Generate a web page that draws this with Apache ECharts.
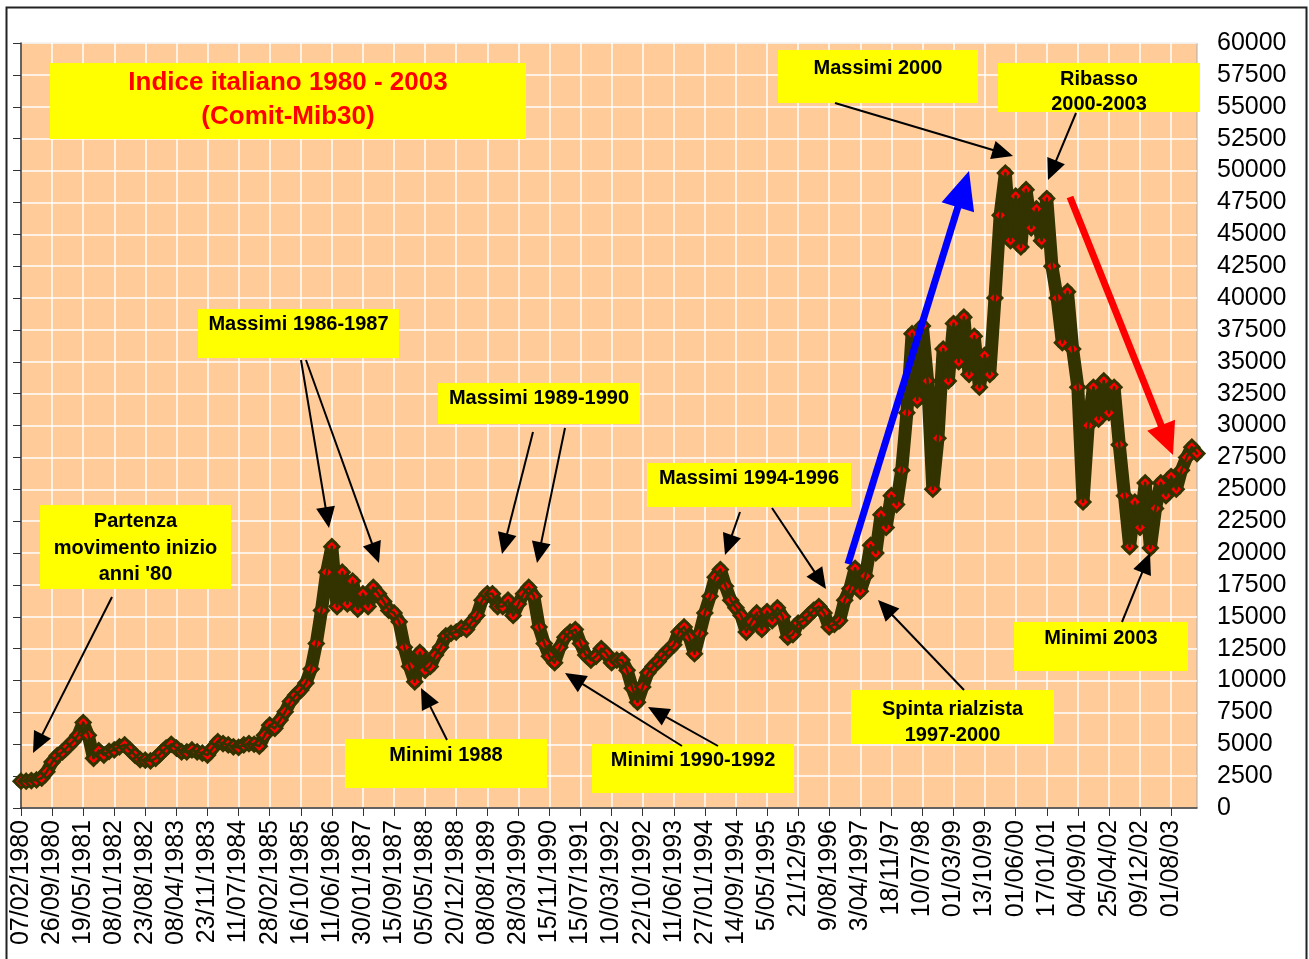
<!DOCTYPE html>
<html>
<head>
<meta charset="utf-8">
<title>Indice italiano 1980 - 2003 (Comit-Mib30)</title>
<script src="https://cdn.jsdelivr.net/npm/echarts@6.0.0/dist/echarts.min.js"></script>
<style>
  html, body { margin: 0; padding: 0; background: #fff; }
  #chart { width: 1309px; height: 959px; }
</style>
</head>
<body>
<div id="chart"></div>
<script>
// etichette dell'asse x: una ogni STEP punti
const tickLabels = [
  '07/02/1980', '26/09/1980', '19/05/1981', '08/01/1982', '23/08/1982', '08/04/1983',
  '23/11/1983', '11/07/1984', '28/02/1985', '16/10/1985', '11/06/1986', '30/01/1987',
  '15/09/1987', '05/05/1988', '20/12/1988', '08/08/1989', '28/03/1990', '15/11/1990',
  '15/07/1991', '10/03/1992', '22/10/1992', '11/06/1993', '27/01/1994', '14/09/1994',
  '5/05/1995', '21/12/95', '9/08/1996', '3/04/1997', '18/11/97', '10/07/98',
  '01/03/99', '13/10/99', '01/06/00', '17/01/01', '04/09/01', '25/04/02',
  '09/12/02', '01/08/03'
]
const STEP = 6

// valori dell'indice (circa uno ogni 5 settimane)
const indexValues = [
  2100, 2100, 2150, 2200, 2350, 2850,
  3600, 4100, 4400, 4800, 5200, 5700,
  6700, 5700, 3900, 4500, 4150, 4450,
  4550, 4800, 4950, 4550, 4150, 3800,
  3750, 3700, 3900, 4300, 4700, 5000,
  4700, 4400, 4400, 4550, 4400, 4300,
  4150, 4700, 5200, 5050, 4950, 4800,
  4750, 4950, 5050, 5000, 4850, 5700,
  6500, 6250, 6900, 7550, 8350, 8850,
  9250, 9800, 10900, 12900, 15500, 18500,
  20500, 15800, 18500, 16000, 17800, 15600,
  16800, 15800, 17300, 16800, 16200, 15500,
  15300, 14600, 12600, 11100, 9900, 12200,
  10800, 11100, 12000, 12600, 13500, 13700,
  13800, 14100, 14000, 14600, 15100, 16300,
  16800, 16800, 15800, 15800, 16300, 15100,
  16000, 16800, 17300, 16600, 14200, 12900,
  11900, 11400, 12600, 13400, 13800, 14000,
  12900, 12000, 11600, 11900, 12500, 12100,
  11400, 11600, 11600, 10800, 9400, 8300,
  9500, 10600, 11100, 11500, 12000, 12400,
  12800, 13800, 14200, 13400, 12100, 13700,
  15300, 16600, 18100, 18700, 17400, 16300,
  15700, 15100, 13800, 14600, 15300, 14000,
  15400, 14700, 15700, 15000, 13400, 13600,
  14500, 14700, 15100, 15500, 15800, 15300,
  14200, 14400, 14700, 16300, 17200, 18800,
  17000, 18200, 20600, 20000, 23000, 22000,
  24500, 23800, 26500, 31000, 37200, 32000,
  37800, 33500, 25000, 29000, 36000, 33500,
  38000, 35000, 38500, 34000, 37000, 33000,
  35500, 34000, 40000, 46500, 49800, 44500,
  48000, 44000, 48500, 45500, 47000, 44500,
  47800, 42500, 40000, 36500, 40500, 36000,
  33000, 24000, 30000, 33000, 30500, 33500,
  31000, 33000, 28500, 24500, 20500, 24000,
  22000, 25500, 20400, 23500, 25500, 24500,
  26000, 25000, 26500, 27500, 28300, 27800
]

const categories = indexValues.map((v, i) => (i % STEP === 0 ? tickLabels[i / STEP] : ''))

const FONT = '"Liberation Sans", Arial, sans-serif'

// riquadri gialli di commento
const boxes = [
  { x: 50, y: 63, w: 476, h: 76, color: '#ff0000', size: 26, lines: [['Indice italiano 1980 - 2003', 83], ['(Comit-Mib30)', 117]] },
  { x: 40, y: 505, w: 191, h: 84, lines: [['Partenza', 521], ['movimento inizio', 548], ["anni '80", 574]] },
  { x: 198, y: 309, w: 201, h: 49, lines: [['Massimi 1986-1987', 324]] },
  { x: 345, y: 739, w: 202, h: 49, lines: [['Minimi 1988', 755]] },
  { x: 438, y: 383, w: 202, h: 41, lines: [['Massimi 1989-1990', 398]] },
  { x: 592, y: 744, w: 202, h: 49, lines: [['Minimi 1990-1992', 760]] },
  { x: 647, y: 463, w: 204, h: 44, lines: [['Massimi 1994-1996', 478]] },
  { x: 851, y: 690, w: 203, h: 54, lines: [['Spinta rialzista', 709], ['1997-2000', 735]] },
  { x: 778, y: 50, w: 200, h: 53, lines: [['Massimi 2000', 68]] },
  { x: 998, y: 63, w: 202, h: 49, lines: [['Ribasso', 79], ['2000-2003', 104]] },
  { x: 1014, y: 622, w: 174, h: 49, lines: [['Minimi 2003', 638]] }
]

// frecce: [x1, y1, x2 (punta), y2 (punta)]
const blackArrows = [
  [112, 597, 33, 753],
  [301, 360, 329, 528],
  [306, 360, 379, 563],
  [447, 740, 421, 688],
  [533, 432, 502, 554],
  [565, 428, 537, 563],
  [682, 746, 565, 673],
  [718, 746, 648, 707],
  [740, 512, 725, 555],
  [772, 508, 826, 589],
  [964, 690, 878, 600],
  [835, 103, 1013, 156],
  [1076, 113, 1048, 180],
  [1122, 622, 1150, 553]
]

function arrow(a, color, width, headLen, headW) {
  const [x1, y1, x2, y2] = a
  const len = Math.hypot(x2 - x1, y2 - y1)
  const dx = (x2 - x1) / len, dy = (y2 - y1) / len
  const bx = x2 - dx * headLen, by = y2 - dy * headLen
  const nx = -dy * headW / 2, ny = dx * headW / 2
  return [
    { type: 'line', silent: true, z: 20,
      shape: { x1, y1, x2: bx + dx, y2: by + dy },
      style: { stroke: color, lineWidth: width } },
    { type: 'polygon', silent: true, z: 20,
      shape: { points: [[x2, y2], [bx + nx, by + ny], [bx - nx, by - ny]] },
      style: { fill: color } }
  ]
}

const graphics = [
  { type: 'rect', silent: true, z: 30, shape: { x: 6.5, y: 7.5, width: 1300, height: 960 },
    style: { fill: 'none', stroke: '#222', lineWidth: 2 } }
]
boxes.forEach(b => {
  graphics.push({ type: 'rect', silent: true, z: 15, shape: { x: b.x, y: b.y, width: b.w, height: b.h },
    style: { fill: '#ffff00' } })
  b.lines.forEach(([t, cy]) => {
    graphics.push({ type: 'text', silent: true, z: 16, x: b.x + b.w / 2, y: cy,
      style: { text: t, fill: b.color || '#000', font: 'bold ' + (b.size || 20) + 'px ' + FONT,
        align: 'center', verticalAlign: 'middle', textAlign: 'center', textVerticalAlign: 'middle' } })
  })
})
blackArrows.forEach(a => graphics.push(...arrow(a, '#000', 2, 21, 19)))
graphics.push(...arrow([848, 564, 969, 171], '#0000ff', 7, 38, 34))
graphics.push(...arrow([1070, 197, 1173, 455], '#ff0000', 7, 32, 30))

const chart = echarts.init(document.getElementById('chart'))
chart.setOption({
  animation: false,
  backgroundColor: '#ffffff',
  grid: { left: 21, right: 112, top: 43, bottom: 151, show: true, backgroundColor: '#ffcc99',
    borderColor: '#aaaaaa', borderWidth: 1 },
  xAxis: {
    type: 'category',
    data: categories,
    boundaryGap: false,
    axisLine: { lineStyle: { color: '#333', width: 1.5 } },
    axisTick: { interval: STEP - 1, length: 8, lineStyle: { color: '#333' } },
    axisLabel: { interval: STEP - 1, rotate: 90, fontSize: 25, color: '#000', fontFamily: FONT, margin: 12 },
    splitLine: { show: true, interval: STEP - 1, lineStyle: { color: '#ffffff', width: 1.5 } }
  },
  yAxis: [
    {
      type: 'value', position: 'right', min: 0, max: 60000, interval: 2500,
      axisLine: { show: false }, axisTick: { show: false },
      axisLabel: { fontSize: 25, color: '#000', fontFamily: FONT, margin: 20, formatter: v => String(v) },
      splitLine: { show: true, lineStyle: { color: '#ffffff', width: 1.5 } }
    },
    {
      type: 'value', position: 'left', min: 0, max: 60000, interval: 2500,
      axisLine: { show: true, lineStyle: { color: '#333', width: 1.5 } },
      axisTick: { show: true, length: 8, lineStyle: { color: '#333' } },
      axisLabel: { show: false },
      splitLine: { show: false }
    }
  ],
  series: [
    {
      type: 'line', data: indexValues, yAxisIndex: 0, z: 3,
      symbol: 'diamond', symbolSize: 14, showAllSymbol: true,
      lineStyle: { color: '#333300', width: 13, join: 'round', cap: 'round' },
      itemStyle: { color: '#ff0000', borderColor: '#333300', borderWidth: 3 }
    },
    {
      type: 'line', data: indexValues, yAxisIndex: 0, z: 4,
      symbol: 'none',
      lineStyle: { color: '#333300', width: 2.5, join: 'round', cap: 'round' }
    }
  ],
  graphic: graphics
})
</script>
</body>
</html>
